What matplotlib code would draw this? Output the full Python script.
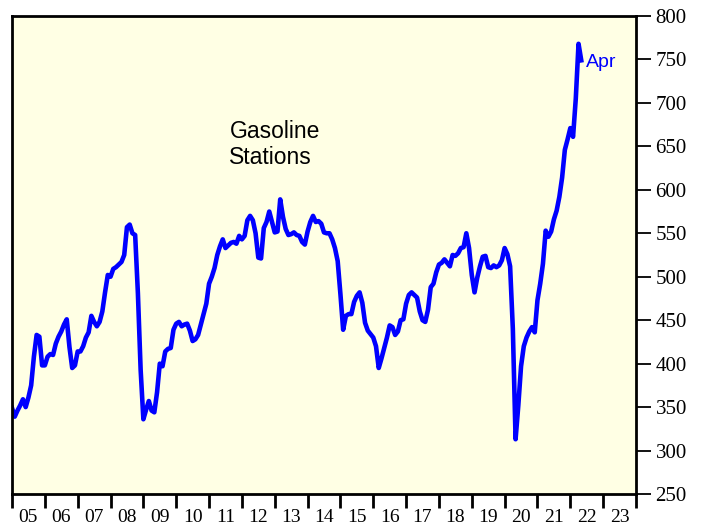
import numpy as np
import pandas as pd
import matplotlib
matplotlib.use('Agg')
import matplotlib.pyplot as plt

plt.rcParams['font.family'] = ['Liberation Serif', 'DejaVu Serif']

# monthly sales, Dec 2004 .. Apr 2022
months = pd.date_range('2004-12-01', '2022-04-01', freq='MS')
sales = [349,
         339, 346, 352, 359, 350, 361, 375, 408, 433, 431, 398, 398,  # 2005
         408, 411, 410, 423, 431, 437, 445, 451, 419, 395, 398, 414,  # 2006
         414, 420, 430, 436, 455, 448, 443, 448, 460, 482, 502, 500,  # 2007
         509, 511, 514, 517, 525, 557, 560, 550, 548, 481, 393, 336,  # 2008
         347, 357, 346, 344, 367, 400, 397, 414, 417, 418, 439, 446,  # 2009
         448, 443, 445, 446, 438, 426, 428, 433, 445, 457, 469, 492,  # 2010
         500, 510, 525, 535, 543, 533, 536, 539, 540, 538, 547, 543,  # 2011
         547, 565, 570, 565, 550, 522, 521, 556, 563, 575, 563, 551,  # 2012
         552, 589, 569, 555, 548, 549, 551, 548, 547, 540, 537, 552,  # 2013
         563, 570, 563, 564, 561, 551, 550, 550, 543, 533, 518, 480,  # 2014
         439, 455, 457, 457, 471, 478, 482, 470, 447, 438, 434, 430,  # 2015
         420, 395, 406, 418, 430, 444, 442, 433, 437, 450, 451, 469,  # 2016
         479, 482, 479, 476, 460, 450, 448, 462, 488, 492, 505, 514,  # 2017
         516, 520, 516, 512, 525, 524, 527, 533, 534, 550, 533, 502,  # 2018
         482, 499, 512, 523, 524, 511, 510, 513, 511, 513, 519, 533,  # 2019
         526, 512, 440, 313, 352, 397, 420, 430, 437, 442, 436, 473,  # 2020
         492, 515, 553, 546, 552, 566, 576, 592, 614, 646, 658, 671,  # 2021
         661, 705, 768, 749]                                           # 2022
year_labels = ['%02d' % (y % 100) for y in range(2005, 2024)]
y_ticks = list(range(250, 801, 50))

# end-of-month position in decimal years
t = months.year + months.month / 12.0

fig = plt.figure(figsize=(7.17, 5.29), dpi=100)
ax = fig.add_axes([12/717, 35/529, 624/717, 478/529])
ax.set_facecolor('#FFFFE4')

ax.plot(t, sales, color='#0000FF', lw=3.3, solid_joinstyle='round')

ax.set_xlim(2005, 2024)
ax.set_ylim(250, 800)

ax.yaxis.tick_right()
ax.set_yticks(y_ticks)
ax.tick_params(axis='y', direction='out', length=11, width=1.3, pad=3, labelsize=15)

ax.set_xticks(range(2005, 2025))
ax.set_xticklabels([])
ax.set_xticks(np.arange(2005.5, 2024), minor=True)
ax.set_xticklabels(year_labels, minor=True)
ax.tick_params(axis='x', which='major', direction='out', length=10, width=2)
ax.tick_params(axis='x', which='minor', length=0, pad=11, labelsize=14)

for s in ax.spines.values():
    s.set_linewidth(2)

ax.text(2011.62, 652, 'Gasoline\nStations', family=['Liberation Sans', 'DejaVu Sans'],
        fontsize=16.5, ha='left', va='center', linespacing=1.15)
ax.text(2022.47, 746, 'Apr', family=['Liberation Sans', 'DejaVu Sans'],
        fontsize=14, color='#0000FF', ha='left', va='center')

fig.savefig('out.png', dpi=100)
